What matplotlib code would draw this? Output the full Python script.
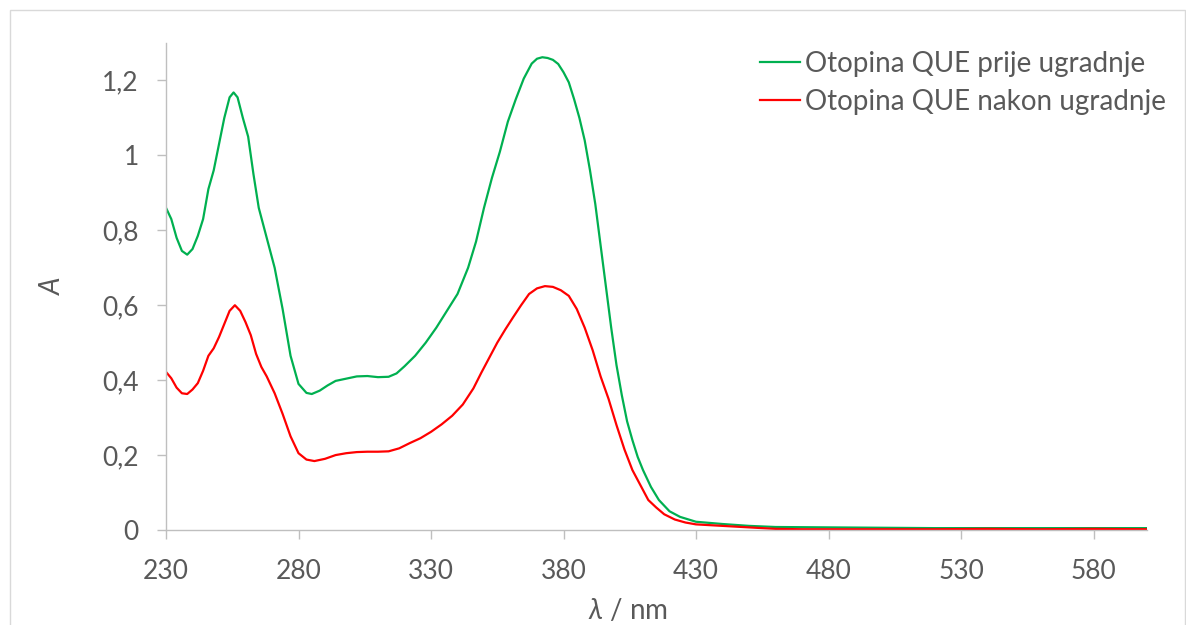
import matplotlib
matplotlib.use('Agg')
import matplotlib.pyplot as plt
from matplotlib.patches import Rectangle

# --------------------------
# 全局设置
# --------------------------
plt.rcParams['font.family'] = ['Lato', 'DejaVu Sans']
plt.rcParams['mathtext.fontset'] = 'custom'
plt.rcParams['mathtext.it'] = 'Lato:italic'
plt.rcParams['mathtext.rm'] = 'Lato'

# data
wl_prije = [230, 232, 234, 236, 238, 240, 242, 244, 246, 248, 250, 252, 254, 255.5, 257,
            259, 261, 263, 265, 268, 271, 274, 277, 280, 283, 285, 288, 291, 294, 298,
            302, 306, 310, 314, 317, 320, 324, 328, 332, 336, 340, 344, 347, 350, 353,
            356, 359, 362, 365, 368, 370, 372, 374, 376, 378, 380, 382, 384, 386, 388,
            390, 392, 394, 396, 398, 400, 402, 404, 406, 408, 410, 413, 416, 420, 424,
            430, 440, 450, 460, 480, 500, 520, 540, 560, 580, 600]
a_prije = [0.86, 0.83, 0.78, 0.745, 0.735, 0.75, 0.785, 0.83, 0.91, 0.96, 1.03, 1.10, 1.155, 1.168, 1.155,
           1.10, 1.05, 0.95, 0.86, 0.78, 0.70, 0.59, 0.465, 0.39, 0.366, 0.363, 0.372, 0.386, 0.398, 0.404,
           0.410, 0.411, 0.408, 0.409, 0.418, 0.437, 0.465, 0.50, 0.54, 0.585, 0.63, 0.70, 0.77, 0.86, 0.94,
           1.01, 1.09, 1.15, 1.205, 1.245, 1.258, 1.262, 1.26, 1.255, 1.244, 1.222, 1.195, 1.15, 1.10, 1.04,
           0.96, 0.87, 0.76, 0.65, 0.54, 0.44, 0.36, 0.29, 0.24, 0.195, 0.16, 0.115, 0.08, 0.05, 0.035,
           0.022, 0.016, 0.011, 0.008, 0.007, 0.006, 0.005, 0.005, 0.005, 0.005, 0.005]

wl_nakon = [230, 232, 234, 236, 238, 240, 242, 244, 246, 248, 250, 252, 254, 256, 258,
            260, 262, 264, 266, 268, 271, 274, 277, 280, 283, 286, 290, 294, 298, 302,
            306, 310, 314, 318, 322, 326, 330, 334, 338, 342, 346, 349, 352, 355, 358,
            361, 364, 367, 370, 373, 376, 379, 382, 385, 388, 391, 394, 397, 400, 403,
            406, 409, 412, 415, 418, 422, 426, 430, 440, 450, 460, 470, 480, 500, 520,
            540, 560, 580, 600]
a_nakon = [0.422, 0.405, 0.38, 0.365, 0.363, 0.375, 0.392, 0.425, 0.465, 0.485, 0.515, 0.55, 0.585, 0.60, 0.585,
           0.555, 0.52, 0.47, 0.435, 0.41, 0.365, 0.31, 0.25, 0.205, 0.188, 0.184, 0.19, 0.2, 0.205, 0.208,
           0.209, 0.209, 0.21, 0.218, 0.232, 0.245, 0.262, 0.282, 0.305, 0.335, 0.378, 0.42, 0.46, 0.50, 0.535,
           0.568, 0.60, 0.63, 0.645, 0.651, 0.649, 0.64, 0.625, 0.59, 0.54, 0.48, 0.41, 0.35, 0.28, 0.215,
           0.16, 0.12, 0.08, 0.06, 0.042, 0.028, 0.02, 0.015, 0.011, 0.007, 0.003, 0.002, 0.002, 0.002, 0.002,
           0.003, 0.002, 0.003, 0.002]

labels = ['Otopina QUE prije ugradnje', 'Otopina QUE nakon ugradnje']
x_ticks = [230, 280, 330, 380, 430, 480, 530, 580]
y_ticks = [0, 0.2, 0.4, 0.6, 0.8, 1.0, 1.2]
y_labels = ['0', '0,2', '0,4', '0,6', '0,8', '1', '1,2']

fig = plt.figure(figsize=(11.86, 6.25), dpi=100)
ax = fig.add_axes([166 / 1186, 95 / 625, 980.5 / 1186, 487 / 625])

# chart area border
fig.patches.append(Rectangle((10 / 1186, -0.1), (1185 - 10) / 1186, 1.1 - 10 / 625,
                             transform=fig.transFigure, fill=False,
                             edgecolor='#D9D9D9', linewidth=1))

ax.plot(wl_prije, a_prije, color='#00B050', linewidth=1.6, label=labels[0],
        solid_joinstyle='round')
ax.plot(wl_nakon, a_nakon, color='#FF0000', linewidth=1.6, label=labels[1],
        solid_joinstyle='round')

ax.set_xlim(230, 600)
ax.set_ylim(0, 1.3)
ax.set_xticks(x_ticks)
ax.set_yticks(y_ticks)
ax.set_yticklabels(y_labels)

for s in ['top', 'right']:
    ax.spines[s].set_visible(False)
for s in ['left', 'bottom']:
    ax.spines[s].set_color('#BFBFBF')
    ax.spines[s].set_linewidth(1)
ax.tick_params(axis='both', colors='#BFBFBF', length=6.5, width=1,
               labelcolor='#595959', labelsize=19)
ax.tick_params(axis='x', pad=14.5)
ax.tick_params(axis='y', pad=13)

ax.set_xlabel(r'$\mathit{\lambda}$ / nm', fontsize=20, color='#595959')
ax.xaxis.label.set_va('center')
ax.xaxis.set_label_coords((628 - 166) / 980.5, -0.165)
ax.set_ylabel('A', fontsize=20, color='#595959', style='italic')
ax.yaxis.set_label_coords((66 - 166) / 980.5, 0.5)

ax.legend(loc='upper left', bbox_to_anchor=(760 / 1186, 1 - 51 / 625),
          bbox_transform=fig.transFigure, frameon=False, fontsize=20,
          labelcolor='#595959', handlelength=1.44, handletextpad=0.18,
          labelspacing=0.43, borderaxespad=0, borderpad=0)

fig.savefig('out.png', dpi=100)
